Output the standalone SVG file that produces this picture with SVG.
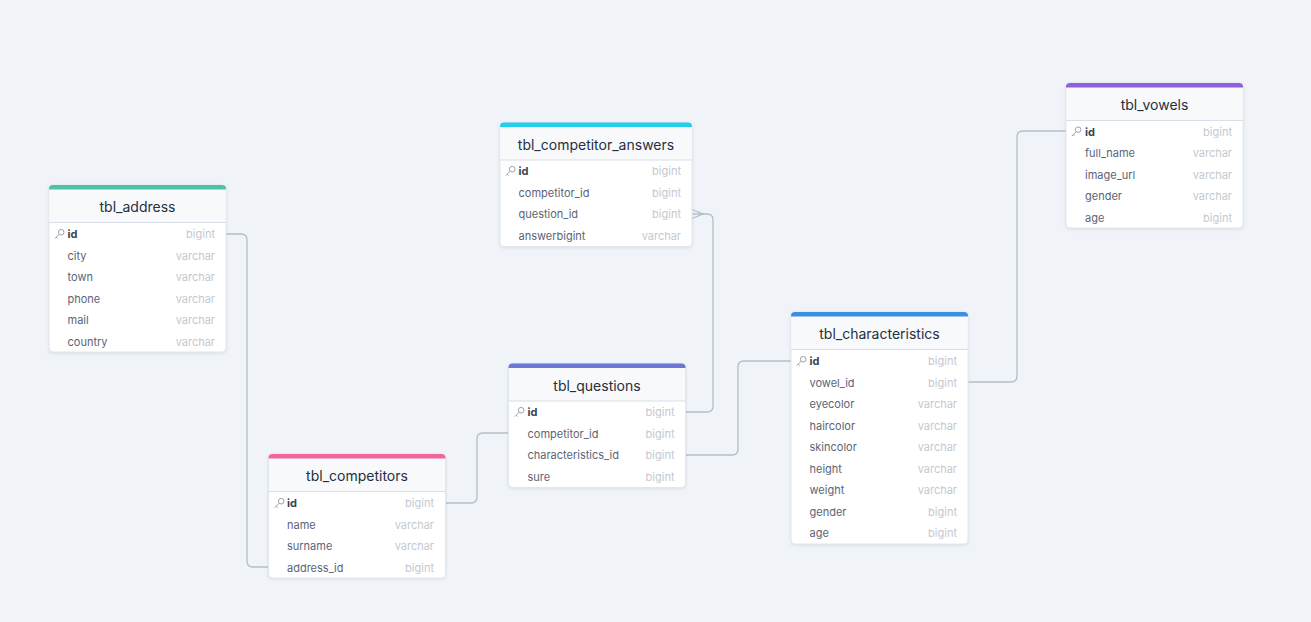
<svg xmlns="http://www.w3.org/2000/svg" width="1311" height="622" viewBox="0 0 1311 622">
<defs>
<style>
.bg{fill:#f0f4f8}
.card{fill:#ffffff;stroke:#e2e7ee;stroke-width:1}
.hdr{fill:#f7f9fb}
.hline{stroke:#d8dfe8;stroke-width:1.2}
.title{font-family:Inter,"Noto Sans","Liberation Sans",sans-serif;font-size:14px;fill:#262f3d;text-anchor:middle}
.fld{font-family:Inter,"Noto Sans","Liberation Sans",sans-serif;font-size:11px;fill:#5a6576}
.pk{font-weight:bold;fill:#3a4452}
.typ{font-family:Inter,"Noto Sans","Liberation Sans",sans-serif;font-size:11px;fill:#c4c9cf;text-anchor:end}
.conn{fill:none;stroke:#b3bdca;stroke-width:1.3}
.key{fill:none;stroke:#9aa3ae;stroke-width:1}
</style>
<filter id="sh" x="-10%" y="-10%" width="120%" height="120%">
<feDropShadow dx="0" dy="1" stdDeviation="1.5" flood-color="#8a99ad" flood-opacity="0.25"/>
</filter>
<g id="keyicon"><circle cx="3.2" cy="-1.8" r="2.8" class="key"/><path d="M1.2 0.2 L-3.2 4.6 M-1.8 3.2 L-0.4 4.6" class="key"/></g>
</defs>
<rect class="bg" x="0" y="0" width="1311" height="622"/>

<g id="connectors">
<path class="conn" d="M226 234 H241 Q247 234 247 240 V561 Q247 567 253 567 H268"/>
<path class="conn" d="M445 503 H471 Q477 503 477 497 V439 Q477 433 483 433 H508"/>
<path class="conn" d="M685 412 H707 Q713 412 713 406 V220 Q713 214 707 214 H692"/>
<path class="conn" d="M692 209.5 L703 214 L692 218.5"/>
<path class="conn" d="M685 455 H732 Q738 455 738 449 V367 Q738 361 744 361 H791"/>
<path class="conn" d="M968 382 H1011 Q1017 382 1017 376 V137 Q1017 131 1023 131 H1066"/>
</g>

<g id="tbl_address">
<rect class="card" x="49" y="185" width="177" height="167" rx="4" filter="url(#sh)"/>
<rect class="hdr" x="49.5" y="188" width="176" height="34.5"/>
<path d="M49 189 A4 4 0 0 1 53 185 H222 A4 4 0 0 1 226 189 V189.5 H49 Z" fill="#4fc1a7"/>
<line class="hline" x1="49" y1="222.5" x2="226" y2="222.5"/>
<text class="title" x="137.5" y="212">tbl_address</text>
<use href="#keyicon" x="58" y="234"/>
<text class="fld pk" x="67.5" y="238">id</text><text class="typ" x="215" y="238">bigint</text>
<text class="fld" x="67.5" y="259.5">city</text><text class="typ" x="215" y="259.5">varchar</text>
<text class="fld" x="67.5" y="281">town</text><text class="typ" x="215" y="281">varchar</text>
<text class="fld" x="67.5" y="302.5">phone</text><text class="typ" x="215" y="302.5">varchar</text>
<text class="fld" x="67.5" y="324">mail</text><text class="typ" x="215" y="324">varchar</text>
<text class="fld" x="67.5" y="345.5">country</text><text class="typ" x="215" y="345.5">varchar</text>
</g>

<g id="tbl_competitor_answers">
<rect class="card" x="500" y="122.5" width="192" height="124" rx="4" filter="url(#sh)"/>
<rect class="hdr" x="500.5" y="125.5" width="191" height="34.5"/>
<path d="M500 126.5 A4 4 0 0 1 504 122.5 H688 A4 4 0 0 1 692 126.5 V127 H500 Z" fill="#23d0ec"/>
<line class="hline" x1="500" y1="160" x2="692" y2="160"/>
<text class="title" x="596" y="149.5">tbl_competitor_answers</text>
<use href="#keyicon" x="509" y="171"/>
<text class="fld pk" x="518.5" y="175">id</text><text class="typ" x="681" y="175">bigint</text>
<text class="fld" x="518.5" y="196.5">competitor_id</text><text class="typ" x="681" y="196.5">bigint</text>
<text class="fld" x="518.5" y="218">question_id</text><text class="typ" x="681" y="218">bigint</text>
<text class="fld" x="518.5" y="239.5">answerbigint</text><text class="typ" x="681" y="239.5">varchar</text>
</g>

<g id="tbl_vowels">
<rect class="card" x="1066" y="83" width="177" height="145" rx="4" filter="url(#sh)"/>
<rect class="hdr" x="1066.5" y="86" width="176" height="34.5"/>
<path d="M1066 87 A4 4 0 0 1 1070 83 H1239 A4 4 0 0 1 1243 87 V87.5 H1066 Z" fill="#8f5fdc"/>
<line class="hline" x1="1066" y1="120.5" x2="1243" y2="120.5"/>
<text class="title" x="1154.5" y="110">tbl_vowels</text>
<use href="#keyicon" x="1075" y="131.5"/>
<text class="fld pk" x="1085" y="135.5">id</text><text class="typ" x="1232" y="135.5">bigint</text>
<text class="fld" x="1085" y="157">full_name</text><text class="typ" x="1232" y="157">varchar</text>
<text class="fld" x="1085" y="178.5">image_url</text><text class="typ" x="1232" y="178.5">varchar</text>
<text class="fld" x="1085" y="200">gender</text><text class="typ" x="1232" y="200">varchar</text>
<text class="fld" x="1085" y="221.5">age</text><text class="typ" x="1232" y="221.5">bigint</text>
</g>

<g id="tbl_questions">
<rect class="card" x="508.5" y="363.5" width="177" height="124" rx="4" filter="url(#sh)"/>
<rect class="hdr" x="509" y="366.5" width="176" height="34.5"/>
<path d="M508.5 367.5 A4 4 0 0 1 512.5 363.5 H681.5 A4 4 0 0 1 685.5 367.5 V368 H508.5 Z" fill="#6b77d4"/>
<line class="hline" x1="508.5" y1="401" x2="685.5" y2="401"/>
<text class="title" x="597" y="390.5">tbl_questions</text>
<use href="#keyicon" x="518" y="412"/>
<text class="fld pk" x="527.5" y="416">id</text><text class="typ" x="674.5" y="416">bigint</text>
<text class="fld" x="527.5" y="437.5">competitor_id</text><text class="typ" x="674.5" y="437.5">bigint</text>
<text class="fld" x="527.5" y="459">characteristics_id</text><text class="typ" x="674.5" y="459">bigint</text>
<text class="fld" x="527.5" y="480.5">sure</text><text class="typ" x="674.5" y="480.5">bigint</text>
</g>

<g id="tbl_competitors">
<rect class="card" x="268.5" y="454" width="177" height="124" rx="4" filter="url(#sh)"/>
<rect class="hdr" x="269" y="457" width="176" height="34.5"/>
<path d="M268.5 458 A4 4 0 0 1 272.5 454 H441.5 A4 4 0 0 1 445.5 458 V458.5 H268.5 Z" fill="#f2679a"/>
<line class="hline" x1="268.5" y1="491.5" x2="445.5" y2="491.5"/>
<text class="title" x="357" y="481">tbl_competitors</text>
<use href="#keyicon" x="278" y="503"/>
<text class="fld pk" x="287" y="507">id</text><text class="typ" x="434" y="507">bigint</text>
<text class="fld" x="287" y="528.5">name</text><text class="typ" x="434" y="528.5">varchar</text>
<text class="fld" x="287" y="550">surname</text><text class="typ" x="434" y="550">varchar</text>
<text class="fld" x="287" y="571.5">address_id</text><text class="typ" x="434" y="571.5">bigint</text>
</g>

<g id="tbl_characteristics">
<rect class="card" x="791" y="312" width="177" height="232" rx="4" filter="url(#sh)"/>
<rect class="hdr" x="791.5" y="315" width="176" height="34.5"/>
<path d="M791 316 A4 4 0 0 1 795 312 H964 A4 4 0 0 1 968 316 V316.5 H791 Z" fill="#3b8fe3"/>
<line class="hline" x1="791" y1="349.5" x2="968" y2="349.5"/>
<text class="title" x="879.5" y="339">tbl_characteristics</text>
<use href="#keyicon" x="800" y="361"/>
<text class="fld pk" x="809.5" y="365">id</text><text class="typ" x="957" y="365">bigint</text>
<text class="fld" x="809.5" y="386.5">vowel_id</text><text class="typ" x="957" y="386.5">bigint</text>
<text class="fld" x="809.5" y="408">eyecolor</text><text class="typ" x="957" y="408">varchar</text>
<text class="fld" x="809.5" y="429.5">haircolor</text><text class="typ" x="957" y="429.5">varchar</text>
<text class="fld" x="809.5" y="451">skincolor</text><text class="typ" x="957" y="451">varchar</text>
<text class="fld" x="809.5" y="472.5">height</text><text class="typ" x="957" y="472.5">varchar</text>
<text class="fld" x="809.5" y="494">weight</text><text class="typ" x="957" y="494">varchar</text>
<text class="fld" x="809.5" y="515.5">gender</text><text class="typ" x="957" y="515.5">bigint</text>
<text class="fld" x="809.5" y="537">age</text><text class="typ" x="957" y="537">bigint</text>
</g>
</svg>
